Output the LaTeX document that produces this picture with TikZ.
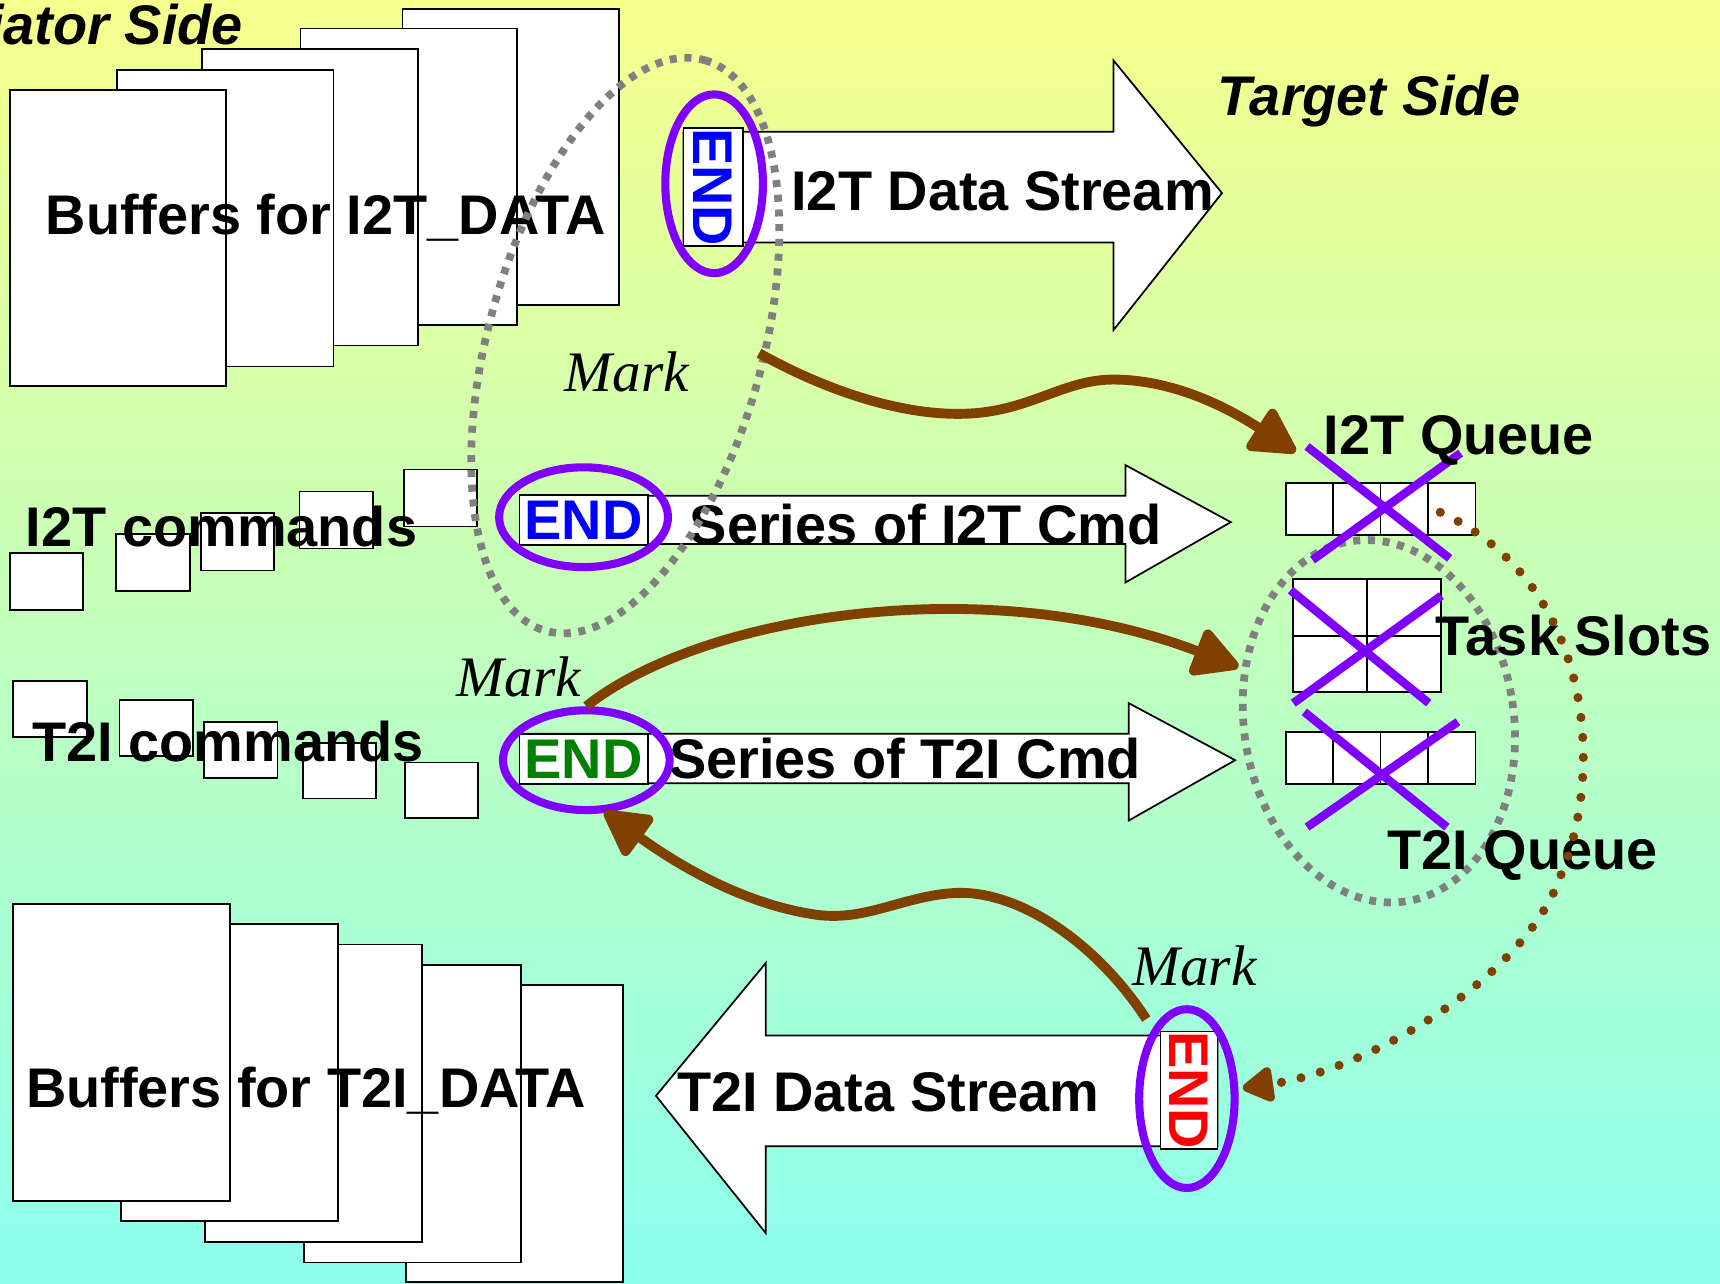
\documentclass[tikz,border=0pt]{standalone}
\usepackage{fontspec}
\setmainfont{Liberation Serif}
\setsansfont{Liberation Sans}
\usetikzlibrary{arrows.meta,shapes.geometric}
\definecolor{bgtop}{RGB}{246,255,140}
\definecolor{bgmid}{RGB}{192,255,188}
\definecolor{bgbot}{RGB}{140,255,238}
\definecolor{markviolet}{RGB}{128,0,255}
\definecolor{markbrown}{RGB}{128,64,0}
\definecolor{ovalgray}{RGB}{128,128,128}
\definecolor{endgreen}{RGB}{0,128,0}
\newcommand{\upx}{0.3121pt}
\tikzset{
  page/.style={draw=black, fill=white, line width=0.5pt},
  cell/.style={draw=black, fill=white, line width=0.5pt},
  lbl/.style={font=\sffamily\bfseries\fontsize{15.9}{18}\selectfont, inner sep=0pt, anchor=base},
  side/.style={lbl, font=\sffamily\bfseries\itshape\fontsize{15.9}{18}\selectfont},
  marklbl/.style={font=\itshape\fontsize{16.3}{19}\selectfont, inner sep=0pt, anchor=base},
  endbox/.style={draw=black, fill=white, line width=0.5pt, inner sep=0pt, font=\sffamily\bfseries\fontsize{15.9}{18}\selectfont},
  ring/.style={ellipse, draw=markviolet, line width=2.3pt, inner sep=0pt},
  bigarrow/.style={draw=black, fill=white, line width=0.5pt},
  oval/.style={draw=ovalgray, line width=2.2pt, dash pattern=on 2pt off 2.2pt},
  cross/.style={draw=markviolet, line width=2.4pt},
  markarrow/.style={draw=markbrown, line width=2.8pt, -{Triangle[round,length=14.5pt,width=15pt]}},
  dotarrow/.style={draw=markbrown, line width=2.6pt, line cap=round, dash pattern=on 0pt off 5.7pt, -{Triangle[round,length=10pt,width=11pt]}}
}
\begin{document}
\begin{tikzpicture}[x=0.01097cm, y=-0.01097cm]
\shade[top color=bgtop, middle color=bgmid, bottom color=bgbot] (0,0) rectangle (1568,1170);
\useasboundingbox (0,0) rectangle (1568,1170);

\foreach \x/\y in {367/8,274/26,184/45,107/64,9/82} \draw[page] (\x,\y) rectangle ++(197,270);
\node[lbl] (bufi) at (297,214) {Buffers for I2T\_DATA};
\foreach \x/\y in {9/504,106/487,183/468,273/448,368/428} \draw[page] (\x,\y) rectangle ++(67,52);
\node[lbl] (cmdi) at (202,498) {I2T commands};
\foreach \x/\y in {12/621,109/638,186/658,276/677,369/695} \draw[page] (\x,\y) rectangle ++(67,51);
\node[lbl] (cmdt) at (208,694) {T2I commands};
\foreach \x/\y in {370/898,277/880,187/861,110/842,12/824} \draw[page] (\x,\y) rectangle ++(198,271);
\node[lbl] (buft) at (279,1010) {Buffers for T2I\_DATA};

\draw[bigarrow] (623,120) -- (1015,120) -- (1015,55) -- (1114,176) -- (1015,301) -- (1015,221) -- (623,221) -- cycle;
\draw[bigarrow] (474,452) -- (1026,452) -- (1026,424) -- (1122,476) -- (1026,531) -- (1026,496) -- (474,496) -- cycle;
\draw[bigarrow] (474,669) -- (1029,669) -- (1029,641) -- (1126,693) -- (1029,748) -- (1029,714) -- (474,714) -- cycle;
\draw[bigarrow] (1110,944) -- (698,944) -- (698,878) -- (598,999) -- (698,1124) -- (698,1045) -- (1110,1045) -- cycle;

\node[endbox, text=blue, rotate=-90, minimum width=103*\upx, minimum height=54*\upx] (endd) at (650,170.5) {END};
\node[endbox, text=blue, minimum width=117*\upx, minimum height=45*\upx] (endc) at (532,474) {END};
\node[endbox, text=endgreen, minimum width=117*\upx, minimum height=45*\upx] (endr) at (532,692) {END};
\node[endbox, text=red, rotate=-90, minimum width=102*\upx, minimum height=52*\upx] (endt) at (1084,994) {END};

\node[lbl] (dsi) at (914,192) {I2T Data Stream};
\node[lbl] (sri) at (844,496) {Series of I2T Cmd};
\node[lbl] (srt) at (825,710) {Series of T2I Cmd};
\node[lbl] (dst) at (810,1013) {T2I Data Stream};

\node[ring, minimum width=89*\upx, minimum height=163*\upx] (ringd) at (651,167.5) {};
\node[ring, minimum width=154*\upx, minimum height=91*\upx] (ringc) at (532,471.5) {};
\node[ring, minimum width=152*\upx, minimum height=91*\upx] (ringr) at (534.5,693) {};
\node[ring, minimum width=87*\upx, minimum height=163*\upx] (ringt) at (1082,1001.5) {};

\draw[oval, rotate around={74.5:(570,315)}] (570,315) ellipse [x radius=270, y radius=125];
\draw[oval, rotate around={8.6:(1257,657.5)}] (1257,657.5) ellipse [x radius=123, y radius=166];

\foreach \i in {0,...,3} {
  \draw[cell] (1172+43.25*\i,440) rectangle ++(43.25,48);
  \draw[cell] (1172+43.25*\i,667) rectangle ++(43.25,48);
}
\foreach \i/\j in {0/0,1/0,0/1,1/1} \draw[cell] (1178.5+67.5*\i,528+51.5*\j) rectangle ++(67.5,51.5);

\draw[cross] (1191.5,407) -- (1321.5,509) (1196.5,510.5) -- (1331.5,413);
\draw[cross] (1176.5,538) -- (1302.5,641) (1179,641) -- (1314,543);
\draw[cross] (1189,649) -- (1319,754) (1191.5,754) -- (1329,658);

\node[side, anchor=base east] (inits) at (222,41) {Initiator Side};
\node[side] (tgts) at (1248,105) {Target Side};
\node[lbl] (qi) at (1330,414) {I2T Queue};
\node[lbl] (ts) at (1434.5,598) {Task Slots};
\node[lbl] (qt) at (1388,793) {T2I Queue};
\node[marklbl] (mk1) at (571.5,357) {Mark};
\node[marklbl] (mk2) at (473,635) {Mark};
\node[marklbl] (mk3) at (1089,898) {Mark};

\coordinate (ovalout) at (692,322);
\coordinate (qin) at (1181,412);
\coordinate (slotin) at (1129,608);
\coordinate (markout) at (1045,929);
\coordinate (ringin) at (551,740);
\coordinate (qout) at (1313,467);
\coordinate (endin) at (1133,992);
\draw[markarrow] (ovalout) .. controls (760,360) and (830,380) .. (884,377) .. controls (940,374) and (970,346) .. (1015,346) .. controls (1070,346) and (1120,372) .. (qin);
\draw[markarrow] (ringr.north) .. controls (640,560) and (900,520) .. (slotin);
\draw[markarrow] (markout) .. controls (1000,860) and (930,812) .. (872,814) .. controls (825,816) and (790,840) .. (745,834) .. controls (680,825) and (620,790) .. (ringin);
\draw[dotarrow] (qout) .. controls (1450,530) and (1465,700) .. (1422,800) .. controls (1390,890) and (1250,975) .. (endin);
\end{tikzpicture}
\end{document}
